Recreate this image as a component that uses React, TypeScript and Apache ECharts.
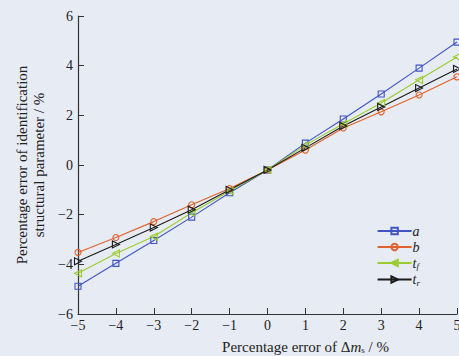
import React, { useEffect, useRef } from "react";
import * as echarts from "echarts";

const xValues = [-5, -4, -3, -2, -1, 0, 1, 2, 3, 4, 5];
const seriesA = [-4.88, -3.96, -3.04, -2.1, -1.12, -0.2, 0.88, 1.85, 2.86, 3.9, 4.95];
const seriesB = [-3.52, -2.92, -2.28, -1.6, -0.95, -0.2, 0.6, 1.49, 2.14, 2.82, 3.55];
const seriesTf = [-4.36, -3.56, -2.88, -1.92, -1.05, -0.2, 0.8, 1.66, 2.5, 3.43, 4.35];
const seriesTr = [-3.88, -3.2, -2.52, -1.8, -1.0, -0.2, 0.69, 1.57, 2.34, 3.1, 3.87];
const seriesNames = ["a", "b", "tf", "tr"];
const colors = ["#3f55c4", "#e0622c", "#9ccc2e", "#1c1c1c"];

const FONT = "'Liberation Serif', 'DejaVu Serif', serif";

export default function App() {
  const ref = useRef<HTMLDivElement>(null);
  useEffect(() => {
    if (!ref.current) return;
    const chart = echarts.init(ref.current, null, { renderer: "svg" });
    const toPairs = (vals: number[]) => xValues.map((x, i) => [x, vals[i]]);
    const minus = (v: number) => String(v).replace("-", "\u2212");
    const mk = (name: string, vals: number[], color: string, symbol: string, size: number, rotate = 0) => ({
      name,
      type: "line",
      data: toPairs(vals),
      symbol,
      symbolSize: size,
      symbolRotate: rotate,
      lineStyle: { color, width: 1.1 },
      itemStyle: { color: "rgba(0,0,0,0)", borderColor: color, borderWidth: 1.1 },
      color,
      clip: false,
    });
    chart.setOption({
      animation: false,
      backgroundColor: "#e7ebf3",
      textStyle: { fontFamily: FONT },
      grid: { left: 78, right: 2, top: 16, bottom: 42, containLabel: false, outerBoundsMode: "none" },
      legend: {
        right: 34,
        top: 219,
        orient: "vertical",
        itemWidth: 34,
        itemHeight: 8,
        itemGap: 2,
        data: seriesNames,
        formatter: (n: string) => {
          if (n === "tf") return "{it|t}{sub|f}";
          if (n === "tr") return "{it|t}{sub|r}";
          return "{it|" + n + "}";
        },
        textStyle: {
          fontFamily: FONT,
          color: "#222",
          padding: [0, 0, 0, -4],
          rich: {
            it: { fontStyle: "italic", fontSize: 14, fontFamily: FONT, color: "#222" },
            sub: { fontStyle: "italic", fontSize: 9, fontFamily: FONT, color: "#222", padding: [6, 0, 0, 0] },
          },
        },
      },
      xAxis: {
        type: "value",
        min: -5,
        max: 5,
        interval: 1,
        name: "{t|Percentage error of Δ}{m|m}{s|s}{t| / %}",
        nameLocation: "middle",
        nameGap: 25,
        nameTextStyle: {
          padding: [0, 0, 0, 76],
          rich: {
            t: { fontFamily: FONT, fontSize: 15, color: "#222", lineHeight: 15 },
            m: { fontFamily: FONT, fontSize: 15, fontStyle: "italic", color: "#222", lineHeight: 15 },
            s: { fontFamily: FONT, fontSize: 9, color: "#222", padding: [6, 0, 0, 0], lineHeight: 15 },
          },
        },
        axisLine: { show: true, onZero: false, lineStyle: { color: "#333", width: 1.2 } },
        axisTick: { inside: true, length: 6, lineStyle: { color: "#333" } },
        axisLabel: { color: "#222", fontSize: 14, fontFamily: FONT, margin: 4, formatter: minus },
        splitLine: { show: false },
      },
      yAxis: {
        type: "value",
        min: -6,
        max: 6,
        interval: 2,
        name: "Percentage error of identification\nstructural parameter / %",
        nameLocation: "middle",
        nameGap: 23,
        nameTextStyle: { fontFamily: FONT, fontSize: 15, color: "#222", lineHeight: 17 },
        axisLine: { show: true, onZero: false, lineStyle: { color: "#333", width: 1.2 } },
        axisTick: { inside: true, length: 6, lineStyle: { color: "#333" } },
        axisLabel: { color: "#222", fontSize: 14, fontFamily: FONT, margin: 5, formatter: minus },
        splitLine: { show: false },
      },
      series: [
        mk("a", seriesA, colors[0], "rect", 6),
        mk("b", seriesB, colors[1], "circle", 6),
        mk("tf", seriesTf, colors[2], "triangle", 7, 90),
        mk("tr", seriesTr, colors[3], "triangle", 7, -90),
      ],
    });
    return () => chart.dispose();
  }, []);
  return <div ref={ref} style={{ position: "fixed", left: 0, top: 0, width: 459, height: 356 }} />;
}
